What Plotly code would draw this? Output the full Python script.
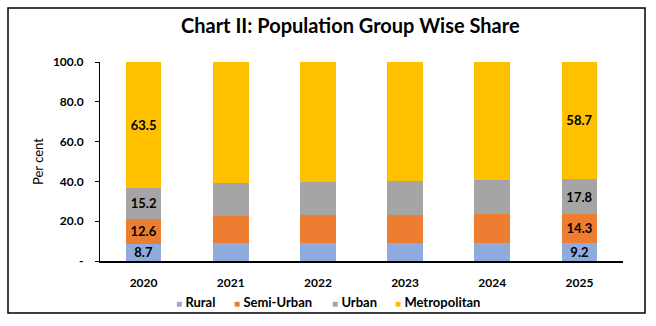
import plotly.graph_objects as go

years = ["2020", "2021", "2022", "2023", "2024", "2025"]
rural = [8.7, 9.0, 9.1, 9.1, 8.8, 9.2]
semi_urban = [12.6, 13.8, 13.8, 14.2, 14.6, 14.3]
urban = [15.2, 16.4, 17.0, 17.1, 17.4, 17.8]
metropolitan = [63.5, 60.8, 60.1, 59.6, 59.2, 58.7]
labeled_years = ["2020", "2025"]
y_ticks = [0, 20, 40, 60, 80, 100]
y_tick_text = ["-", "20.0", "40.0", "60.0", "80.0", "100.0"]

series_names = ["Rural", "Semi-Urban", "Urban", "Metropolitan"]
series_values = [rural, semi_urban, urban, metropolitan]
series_colors = ["#8FAADC", "#ED7D31", "#A5A5A5", "#FFC000"]
legend_px = [176, 234, 332, 395]  # legend item left edges (pixels)

FONT = "Lato"
fig = go.Figure()
for name, vals, color in zip(series_names, series_values, series_colors):
    txt = [f"{v:.1f}" if y in labeled_years else "" for y, v in zip(years, vals)]
    fig.add_trace(go.Bar(
        name=name, x=years, y=vals, marker=dict(color=color, line=dict(width=0)),
        text=txt, textposition="inside", insidetextanchor="middle", constraintext="none",
        textfont=dict(family=FONT, size=13, color="black", weight="bold"),
        hoverinfo="skip",
    ))

# plot area: x 100..623 px, y 62..261 px
PL, PW, PB, PH = 100, 523, 261, 199

def px_x(p):
    return (p - PL) / PW

def px_y(p):
    return (PB - p) / PH

annotations = []
for name, color, lx in zip(series_names, series_colors, legend_px):
    annotations.append(dict(
        xref="paper", yref="paper", x=px_x(lx) - 0.004, y=px_y(302), xanchor="left", yanchor="middle",
        showarrow=False,
        text=f"<span style='color:{color};font-size:10px'>■</span> <b>{name}</b>",
        font=dict(family=FONT, size=13, color="black"),
    ))

fig.update_layout(
    barmode="stack",
    bargap=0.59,
    width=656, height=326,
    margin=dict(l=PL, r=656 - PL - PW, t=PB - PH, b=326 - PB),
    paper_bgcolor="white", plot_bgcolor="white",
    title=dict(text="<b>Chart II: Population Group Wise Share</b>", x=0.534, xanchor="center",
               y=0.92, yanchor="middle",
               font=dict(family=FONT, size=20, color="black")),
    font=dict(family=FONT, color="black"),
    showlegend=False,
    annotations=annotations,
)
fig.update_xaxes(
    showline=True, linecolor="black", linewidth=1.5, ticks="", ticklabelstandoff=10,
    tickfont=dict(family=FONT, size=12, color="black", weight="bold"),
)
fig.update_yaxes(
    range=[0, 100], tickvals=y_ticks, ticktext=y_tick_text,
    showline=True, linecolor="black", linewidth=1, ticks="outside", ticklen=4, tickcolor="black",
    ticklabelstandoff=9,
    showgrid=False, zeroline=False,
    tickfont=dict(family=FONT, size=12, color="black", weight="bold"),
    title=dict(text="Per cent", font=dict(family=FONT, size=13, color="black"), standoff=6),
)
fig.add_shape(type="rect", xref="paper", yref="paper",
              x0=px_x(8), x1=px_x(645), y0=px_y(313), y1=px_y(8),
              line=dict(color="black", width=1.5), fillcolor="rgba(0,0,0,0)", layer="above")

fig.write_html("out.html")
